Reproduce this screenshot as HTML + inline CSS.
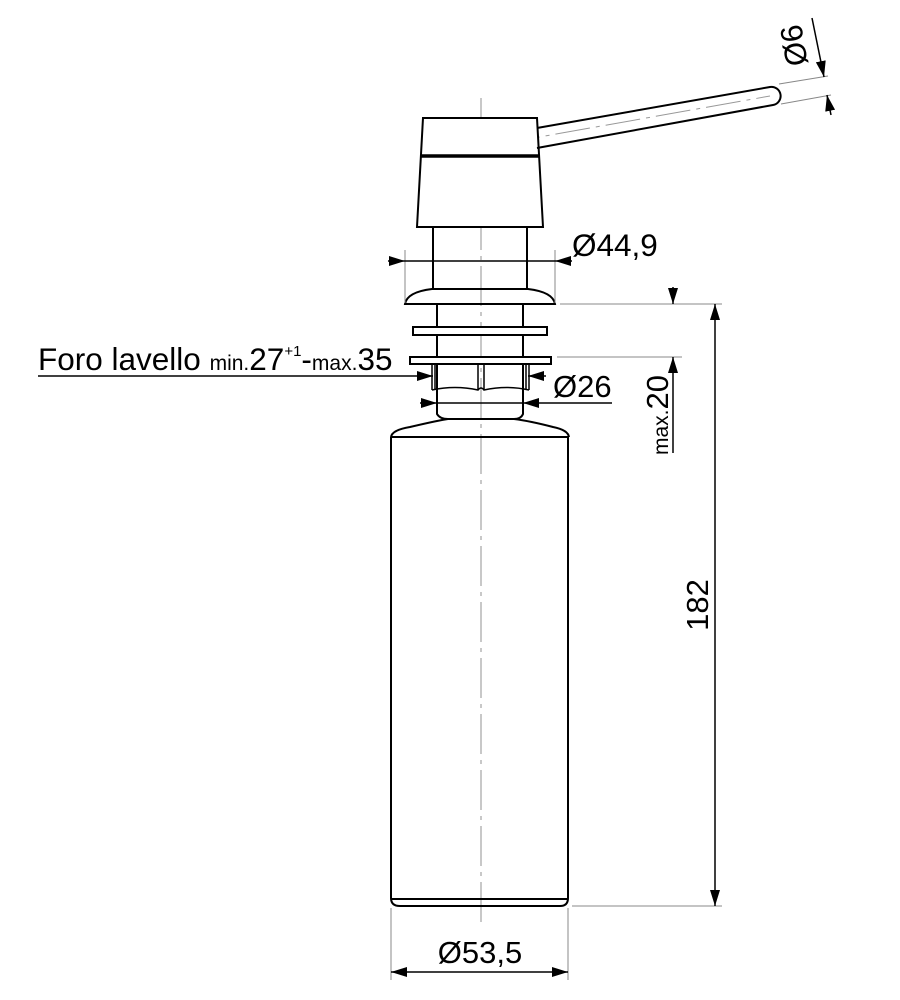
<!DOCTYPE html>
<html><head><meta charset="utf-8"><style>
html,body{margin:0;padding:0;background:#fff;}
svg{display:block;font-family:"Liberation Sans",Arial,sans-serif;}
</style></head><body>
<svg width="900" height="1000" viewBox="0 0 900 1000" xmlns="http://www.w3.org/2000/svg">
<defs>
<marker id="a" viewBox="0 0 16 10" refX="16" refY="5" markerWidth="16" markerHeight="10" markerUnits="userSpaceOnUse" orient="auto"><path d="M0,0 L16,5 L0,10 Z" fill="#000"/></marker>
</defs>
<line x1="481" y1="98" x2="481" y2="922" stroke="#aaa" stroke-width="1.3" stroke-dasharray="40,6,4,6"/>
<line x1="455" y1="152" x2="770" y2="96" stroke="#999" stroke-width="1" stroke-dasharray="35,6,4,6"/>
<g fill="none" stroke="#000" stroke-width="2">
<path d="M423,118 L537,118 L543,227 L417,227 Z" fill="#fff"/>
<line x1="421" y1="156" x2="539" y2="156" stroke-width="3.5"/>
<path d="M537,128 L770,87 A9,9 0 0 1 773,105 L537,148"/>
<line x1="433" y1="227" x2="433" y2="289"/><line x1="527" y1="227" x2="527" y2="289"/>
<path d="M432,289 L528,289 Q553,292 555,304 L405,304 Q407,292 432,289 Z"/>
<line x1="437" y1="304" x2="437" y2="392"/><line x1="523" y1="304" x2="523" y2="392"/>
<rect x="413" y="327" width="134" height="8" fill="#fff"/>
<rect x="410" y="357" width="141" height="7" fill="#fff"/>
<path d="M432,364 L432,390 M529,364 L529,390 M435,364 L435,390 M526,364 L526,390 M478,364 L478,390 M484,364 L484,390" stroke-width="1.5"/>
<path d="M432,390 Q455,385 478,390 Q481,386 484,390 Q507,385 529,390" stroke-width="1.5"/>
<path d="M437,392 L437,414 Q440,419 448,419 L514,419 Q521,419 523,414 L523,392"/>
<path d="M391,437 Q392,430 410,427 Q440,420 448,419 M514,419 Q530,421 553,427 Q568,430 569,437"/>
<line x1="391" y1="437" x2="569" y2="437"/>
<path d="M391,437 L391,898 Q391,906 400,906 L560,906 Q568,906 568,898 L568,437"/>
<line x1="391" y1="899" x2="568" y2="899"/>
</g>
<g stroke="#888" stroke-width="1" fill="none">
<line x1="405" y1="250" x2="405" y2="303"/><line x1="555" y1="250" x2="555" y2="303"/>
<line x1="560" y1="304" x2="722" y2="304"/>
<line x1="557" y1="357" x2="682" y2="357"/>
<line x1="572" y1="906" x2="722" y2="906"/>
<line x1="391" y1="908" x2="391" y2="980"/><line x1="568" y1="908" x2="568" y2="980"/>
<line x1="779" y1="84" x2="828" y2="76"/><line x1="781" y1="104" x2="831" y2="95"/>
</g>
<g stroke="#000" stroke-width="1.5" fill="none">
<line x1="388" y1="261" x2="405" y2="261" marker-end="url(#a)"/>
<line x1="405" y1="261" x2="555" y2="261"/>
<line x1="572" y1="261" x2="555" y2="261" marker-end="url(#a)"/>
<line x1="38" y1="376" x2="433" y2="376" marker-end="url(#a)"/>
<line x1="546" y1="376" x2="528" y2="376" marker-end="url(#a)"/>
<line x1="420" y1="403" x2="437" y2="403" marker-end="url(#a)"/>
<line x1="437" y1="403" x2="523" y2="403"/>
<line x1="612" y1="403" x2="523" y2="403" marker-end="url(#a)"/>
<line x1="673" y1="287" x2="673" y2="304" marker-end="url(#a)"/>
<line x1="673" y1="453" x2="673" y2="357" marker-end="url(#a)"/>
<line x1="715" y1="600" x2="715" y2="304" marker-end="url(#a)"/>
<line x1="715" y1="600" x2="715" y2="906" marker-end="url(#a)"/>
<line x1="480" y1="972" x2="391" y2="972" marker-end="url(#a)"/>
<line x1="480" y1="972" x2="568" y2="972" marker-end="url(#a)"/>
<line x1="812" y1="18" x2="824" y2="77" marker-end="url(#a)"/>
<line x1="831" y1="115" x2="827" y2="95" marker-end="url(#a)"/>
</g>
<g fill="#000">
<text x="572" y="256" font-size="31.5">Ø44,9</text>
<text x="38" y="370" font-size="31.5">Foro lavello <tspan font-size="21">min.</tspan>27<tspan font-size="15" dy="-14">+1</tspan><tspan dy="14">-</tspan><tspan font-size="21">max.</tspan>35</text>
<text x="553" y="397" font-size="31">Ø26</text>
<text x="480" y="963" font-size="31" text-anchor="middle">Ø53,5</text>
<text transform="translate(668,455) rotate(-90)" font-size="31"><tspan font-size="21">max.</tspan>20</text>
<text transform="translate(708,605) rotate(-90)" font-size="31" text-anchor="middle">182</text>
<text transform="translate(808,64) rotate(-100)" font-size="31">Ø6</text>
</g>
</svg>
</body></html>
